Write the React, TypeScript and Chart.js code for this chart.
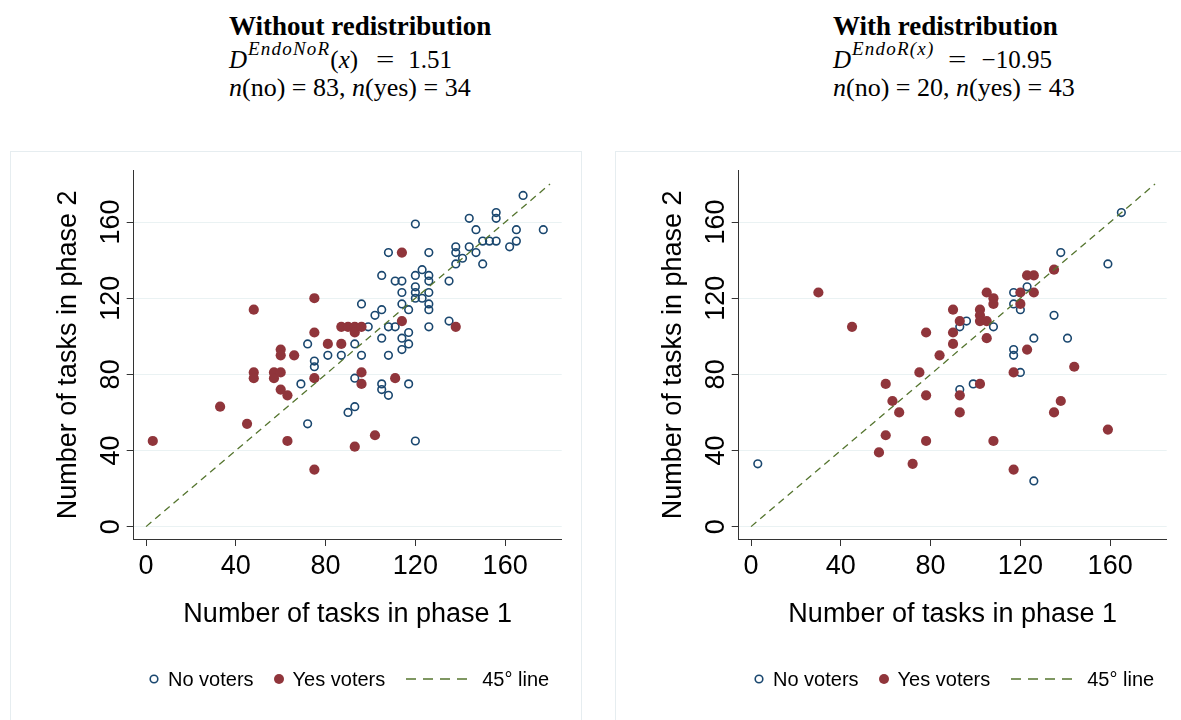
import React, { useEffect, useRef } from 'react';
import { Chart, registerables } from 'chart.js';

Chart.register(...registerables);

// ---------- data ----------
const X_TICKS = [0, 40, 80, 120, 160];
const Y_TICKS = [0, 40, 80, 120, 160];
const LINE_45 = [0, 180];

// Without redistribution
const LEFT_NO_X = [168, 120, 144, 156, 156, 147, 165, 177, 165, 156, 153, 150, 162, 138, 144, 138, 147, 141, 138, 150, 108, 126, 123, 105, 120, 126, 111, 114, 126, 135, 114, 120, 120, 126, 120, 123, 96, 114, 126, 126, 105, 117, 102, 135, 99, 108, 111, 126, 93, 117, 105, 114, 117, 114, 93, 72, 81, 87, 96, 108, 75, 75, 93, 69, 105, 117, 105, 108, 93, 90, 72, 120];
const LEFT_NO_Y = [174, 159, 162, 165, 162, 156, 156, 156, 150, 150, 150, 150, 147, 147, 147, 144, 144, 141, 138, 138, 144, 144, 135, 132, 132, 132, 129, 129, 129, 129, 123, 126, 123, 123, 120, 120, 117, 117, 117, 114, 114, 114, 111, 108, 105, 105, 105, 105, 105, 102, 99, 99, 96, 93, 96, 96, 90, 90, 90, 90, 87, 84, 78, 75, 75, 75, 72, 69, 63, 60, 54, 45];
const LEFT_YES_X = [3, 33, 45, 48, 48, 48, 57, 57, 60, 60, 60, 60, 63, 63, 66, 75, 75, 75, 75, 81, 87, 87, 90, 93, 93, 96, 96, 96, 93, 102, 111, 114, 114, 138];
const LEFT_YES_Y = [45, 63, 54, 114, 81, 78, 81, 78, 81, 93, 90, 72, 69, 45, 90, 120, 102, 78, 30, 96, 105, 96, 105, 105, 102, 105, 81, 75, 42, 48, 78, 144, 108, 105];

// With redistribution
const RIGHT_NO_X = [3, 165, 138, 159, 123, 117, 117, 120, 135, 96, 93, 108, 126, 141, 117, 117, 120, 99, 93, 126];
const RIGHT_NO_Y = [33, 165, 144, 138, 126, 123, 117, 114, 111, 108, 105, 105, 99, 99, 93, 90, 81, 75, 72, 24];
const RIGHT_YES_X = [30, 45, 57, 60, 60, 63, 66, 72, 75, 78, 78, 78, 84, 90, 90, 90, 93, 93, 93, 102, 102, 102, 105, 105, 105, 108, 108, 102, 108, 117, 117, 120, 120, 123, 126, 126, 123, 135, 135, 138, 144, 159];
const RIGHT_YES_Y = [123, 105, 39, 75, 48, 66, 60, 33, 81, 102, 69, 45, 90, 114, 102, 96, 108, 69, 60, 114, 111, 108, 123, 108, 99, 120, 117, 75, 45, 81, 30, 123, 117, 132, 132, 123, 93, 135, 60, 66, 84, 51];

// Panel headings / statistics
const HEADINGS = ['Without redistribution', 'With redistribution'];
const D_SUPS = ['EndoNoR', 'EndoR(x)'];
const D_VALUES = ['1.51', '\u221210.95'];
const N_NO = [83, 20];
const N_YES = [34, 43];

// ---------- styling ----------
const NAVY = '#1a476f';
const MAROON = '#90353b';
const FOREST = '#55752f';
const GRID = '#eaf2f3';
const AXIS = '#333333';
const SANS = '"Liberation Sans", Arial, Helvetica, sans-serif';
const SERIF = '"Liberation Serif", "Times New Roman", serif';

const CANVAS_W = 572;
const CANVAS_H = 569;
const X_AXIS_H = 92;

function toPoints(xs: number[], ys: number[]) {
  return xs.map((x, i) => ({ x, y: ys[i] }));
}

function ScatterPanel(props: { noX: number[]; noY: number[]; yesX: number[]; yesY: number[] }) {
  const ref = useRef<HTMLCanvasElement | null>(null);
  useEffect(() => {
    const canvas = ref.current;
    if (!canvas) return;
    const chart = new Chart(canvas, {
      type: 'scatter',
      data: {
        datasets: [
          {
            label: 'No voters',
            data: toPoints(props.noX, props.noY),
            pointStyle: 'circle',
            pointRadius: 3.8,
            pointBorderWidth: 1.6,
            pointBackgroundColor: 'rgba(0,0,0,0)',
            pointBorderColor: NAVY,
            backgroundColor: 'rgba(0,0,0,0)',
            borderColor: NAVY,
            order: 3,
          },
          {
            label: 'Yes voters',
            data: toPoints(props.yesX, props.yesY),
            pointStyle: 'circle',
            pointRadius: 5.1,
            pointBorderWidth: 0,
            pointBackgroundColor: MAROON,
            pointBorderColor: MAROON,
            backgroundColor: MAROON,
            borderColor: MAROON,
            order: 2,
          },
          {
            label: '45° line',
            data: toPoints(LINE_45, LINE_45),
            showLine: true,
            pointRadius: 0,
            borderColor: FOREST,
            borderWidth: 1.3,
            borderDash: [7, 5],
            fill: false,
            order: 1,
          } as any,
        ],
      },
      options: {
        responsive: false,
        maintainAspectRatio: false,
        animation: false,
        devicePixelRatio: 1,
        layout: { padding: { left: 0, top: 19.7, right: 20.3, bottom: CANVAS_H - 388 - X_AXIS_H } },
        plugins: {
          legend: { display: false },
          tooltip: { enabled: false },
        },
        scales: {
          x: {
            type: 'linear',
            min: -5.5,
            max: 185.2,
            afterBuildTicks: (s: any) => {
              s.ticks = X_TICKS.map((v) => ({ value: v }));
            },
            afterFit: (s: any) => {
              s.height = X_AXIS_H;
            },
            grid: {
              drawOnChartArea: false,
              drawTicks: true,
              tickLength: 7,
              tickColor: AXIS,
              tickWidth: 1,
            },
            border: { display: true, color: AXIS, width: 1 },
            ticks: {
              font: { family: SANS, size: 27 },
              color: '#000',
              padding: 4,
              maxRotation: 0,
              minRotation: 0,
              autoSkip: false,
            },
            title: {
              display: true,
              text: 'Number of tasks in phase 1',
              font: { family: SANS, size: 27 },
              color: '#000',
              padding: { top: 0, bottom: 0 },
            },
          },
          y: {
            type: 'linear',
            min: -6.5,
            max: 187,
            afterBuildTicks: (s: any) => {
              s.ticks = Y_TICKS.map((v) => ({ value: v }));
            },
            afterFit: (s: any) => {
              s.width = 123.7;
            },
            grid: {
              color: GRID,
              lineWidth: 1,
              drawTicks: true,
              tickLength: 7,
              tickColor: AXIS,
              tickWidth: 1,
            },
            border: { display: true, color: AXIS, width: 1 },
            ticks: {
              font: { family: SANS, size: 27 },
              color: '#000',
              padding: -7,
              minRotation: 90,
              maxRotation: 90,
              crossAlign: 'center',
              autoSkip: false,
            },
            title: {
              display: true,
              text: 'Number of tasks in phase 2',
              font: { family: SANS, size: 27 },
              color: '#000',
              padding: { top: 42, bottom: 0 },
            },
          },
        },
      } as any,
    });
    return () => chart.destroy();
  }, []);
  return (
    <canvas
      ref={ref}
      width={CANVAS_W}
      height={CANVAS_H}
      style={{ display: 'block', width: CANVAS_W, height: CANVAS_H }}
    />
  );
}

function Legend(props: { left: number }) {
  return (
    <div
      style={{
        position: 'absolute',
        left: props.left,
        top: 666,
        height: 26,
        display: 'flex',
        alignItems: 'center',
        fontFamily: SANS,
        fontSize: 20,
        color: '#000',
        whiteSpace: 'nowrap',
      }}
    >
      <svg width={10} height={10} style={{ marginRight: 9 }}>
        <circle cx={5} cy={5} r={3.8} fill="none" stroke={NAVY} strokeWidth={1.6} />
      </svg>
      <span>No voters</span>
      <svg width={10} height={10} style={{ marginLeft: 20, marginRight: 9 }}>
        <circle cx={5} cy={5} r={5} fill={MAROON} />
      </svg>
      <span>Yes voters</span>
      <svg width={61} height={4} style={{ marginLeft: 21, marginRight: 15 }}>
        <line x1={0} y1={2} x2={61} y2={2} stroke={FOREST} strokeWidth={1.5} strokeDasharray="10 7" />
      </svg>
      <span>45° line</span>
    </div>
  );
}

function Title(props: { left: number; idx: number }) {
  const i = props.idx;
  const base: React.CSSProperties = {
    position: 'absolute',
    left: props.left,
    fontFamily: SERIF,
    lineHeight: '30px',
    whiteSpace: 'nowrap',
    color: '#000',
  };
  const sup = D_SUPS[i];
  const supNode = sup.endsWith('(x)') ? (
    <>
      {sup.slice(0, -3)}(<i>x</i>)
    </>
  ) : (
    sup
  );
  return (
    <>
      <div style={{ ...base, top: 10.9, fontSize: 27, fontWeight: 'bold' }}>{HEADINGS[i]}</div>
      <div style={{ ...base, top: 44.5, fontSize: 25 }}>
        <i>D</i>
        <span style={{ position: 'relative', top: -13, fontSize: 19, fontStyle: 'italic', letterSpacing: 1.2, marginLeft: 1 }}>
          {supNode}
        </span>
        {i === 0 ? (
          <>
            (<i>x</i>)
          </>
        ) : null}
        <span style={{ display: 'inline-block', transform: 'scaleX(1.3)', margin: i === 0 ? '0 16px 0 20px' : '0 17px 0 16px' }}>=</span>
        {D_VALUES[i]}
      </div>
      <div style={{ ...base, top: 72.9, fontSize: 26 }}>
        <i>n</i>(no) = {N_NO[i]}, <i>n</i>(yes) = {N_YES[i]}
      </div>
    </>
  );
}

const PANEL_OFFSET = 605;

export default function App() {
  return (
    <div
      style={{
        position: 'fixed',
        left: 0,
        top: 0,
        width: 1181,
        height: 720,
        overflow: 'hidden',
        background: '#fff',
      }}
    >
      <Title left={229} idx={0} />
      <Title left={833} idx={1} />
      {[0, 1].map((k) => (
        <div
          key={'box' + k}
          style={{
            position: 'absolute',
            left: 10 + k * PANEL_OFFSET,
            top: 151,
            width: CANVAS_W,
            height: 600,
            boxSizing: 'border-box',
            border: '1px solid #e6edf0',
          }}
        />
      ))}
      <div style={{ position: 'absolute', left: 10, top: 151 }}>
        <ScatterPanel noX={LEFT_NO_X} noY={LEFT_NO_Y} yesX={LEFT_YES_X} yesY={LEFT_YES_Y} />
      </div>
      <div style={{ position: 'absolute', left: 10 + PANEL_OFFSET, top: 151 }}>
        <ScatterPanel noX={RIGHT_NO_X} noY={RIGHT_NO_Y} yesX={RIGHT_YES_X} yesY={RIGHT_YES_Y} />
      </div>
      <Legend left={149} />
      <Legend left={149 + PANEL_OFFSET} />
    </div>
  );
}
